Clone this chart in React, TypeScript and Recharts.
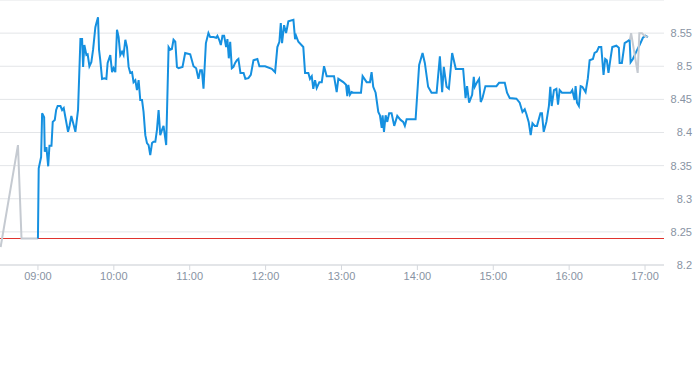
import React from "react";
import { LineChart, Line, XAxis, YAxis, CartesianGrid, ReferenceLine } from "recharts";

// minutes since midnight
const preTimes = [510.5, 524.2, 527.0, 540];
const prePrices = [8.227, 8.381, 8.24, 8.24];

const mainTimes = [
  540, 540.6, 542.5, 543.3, 544.9, 545.4, 546.7, 548.1, 549.1, 550.7, 551.7, 553.3, 554.4, 555.6, 557.8, 559.1, 560.4, 561.7, 563.8, 565.1,
  566.4, 568.3, 569.6, 571.7, 573.6, 574.9, 575.7, 576.7, 578.3, 579.3, 580.7, 582.2, 583.6, 585.4, 586.2, 587.5, 588.3, 589.3, 590.7, 592.5,
  594.1, 595.1, 597.2, 598.6, 599.8, 601.2, 602.5, 603.8, 605.1, 606.5, 607.7, 609.1, 610.4, 611.7, 613.0, 614.4, 615.6, 617.0, 618.3, 619.6,
  620.9, 622.3, 623.5, 624.9, 626.2, 627.5, 628.8, 630.2, 631.4, 632.8, 634.1, 635.4, 636.7, 638.1, 639.3, 640.1, 641.4, 643.3, 644.6, 645.9,
  647.2, 648.6, 649.9, 651.2, 654.3, 656.4, 660.4, 663.0, 665.1, 666.9, 668.3, 669.6, 670.9, 672.8, 674.8, 676.2, 678.8, 680.9, 681.9, 683.3,
  684.6, 685.9, 687.2, 688.8, 689.8, 690.9, 692.0, 693.3, 694.6, 695.9, 697.3, 698.5, 700.1, 702.6, 704.0, 706.4, 708.3, 710.4, 713.5, 715.1,
  719.6, 724.9, 727.5, 729.3, 730.9, 732.0, 733.0, 734.6, 736.2, 738.0, 742.0, 743.3, 744.1, 745.9, 749.8, 751.2, 753.8, 755.1, 756.5, 757.7,
  759.1, 760.4, 762.5, 764.4, 766.2, 768.3, 774.1, 776.2, 777.5, 781.4, 783.6, 784.6, 785.4, 786.7, 788.0, 789.3, 795.4, 796.7, 799.9, 802.5,
  803.8, 805.1, 807.0, 809.1, 810.4, 811.8, 812.5, 813.6, 814.9, 816.2, 817.7, 819.6, 821.7, 824.1, 826.7, 828.8, 830.1, 831.5, 838.6, 841.4,
  844.1, 845.9, 848.5, 851.2, 855.2, 857.8, 859.6, 860.9, 863.1, 864.9, 867.5, 870.4, 876.2, 878.1, 879.3, 880.9, 883.3, 884.6, 885.4, 887.2,
  888.8, 890.1, 891.5, 893.8, 902.5, 904.6, 909.1, 910.9, 913.0, 918.3, 920.9, 923.1, 924.9, 926.2, 928.0, 929.6, 931.0, 932.8, 934.6, 937.3,
  938.5, 939.9, 942.0, 944.0, 945.1, 946.2, 948.0, 949.9, 951.2, 952.5, 954.3, 961.2, 962.5, 964.3, 965.1, 966.2, 967.7, 969.1, 970.4, 973.0,
  974.8, 976.2, 978.8, 980.1, 981.9, 983.5, 985.4, 987.2, 988.5, 989.8, 991.1, 992.5, 994.1, 997.3, 999.3, 999.9, 1001.7, 1003.9, 1005.7, 1007.8,
  1008.6, 1010.4, 1013.1, 1015.7, 1018.3, 1020.4, 1022.3,
];
const mainPrices = [
  8.24, 8.346, 8.363, 8.429, 8.423, 8.371, 8.378, 8.349, 8.38, 8.38, 8.416, 8.419, 8.434, 8.44, 8.44, 8.434, 8.437, 8.423, 8.401, 8.411,
  8.425, 8.411, 8.401, 8.434, 8.541, 8.541, 8.499, 8.532, 8.517, 8.518, 8.5, 8.506, 8.525, 8.559, 8.565, 8.574, 8.525, 8.509, 8.481, 8.482,
  8.481, 8.505, 8.517, 8.491, 8.497, 8.491, 8.555, 8.544, 8.517, 8.522, 8.517, 8.54, 8.529, 8.499, 8.49, 8.491, 8.476, 8.479, 8.464, 8.479,
  8.449, 8.449, 8.431, 8.396, 8.384, 8.381, 8.366, 8.384, 8.386, 8.386, 8.404, 8.434, 8.396, 8.404, 8.41, 8.399, 8.381, 8.529, 8.525, 8.526,
  8.54, 8.537, 8.499, 8.497, 8.499, 8.52, 8.518, 8.5, 8.497, 8.481, 8.494, 8.494, 8.466, 8.535, 8.55, 8.544, 8.544, 8.543, 8.546, 8.54,
  8.532, 8.546, 8.546, 8.529, 8.541, 8.512, 8.537, 8.497, 8.499, 8.505, 8.509, 8.511, 8.49, 8.49, 8.481, 8.482, 8.487, 8.509, 8.511, 8.5,
  8.5, 8.496, 8.491, 8.529, 8.537, 8.565, 8.535, 8.562, 8.55, 8.568, 8.57, 8.541, 8.546, 8.537, 8.529, 8.49, 8.49, 8.481, 8.485, 8.466,
  8.479, 8.467, 8.476, 8.476, 8.5, 8.485, 8.485, 8.461, 8.481, 8.476, 8.472, 8.455, 8.472, 8.457, 8.461, 8.46, 8.46, 8.485, 8.476, 8.476,
  8.491, 8.469, 8.46, 8.431, 8.426, 8.407, 8.426, 8.401, 8.426, 8.416, 8.429, 8.429, 8.41, 8.425, 8.419, 8.416, 8.41, 8.42, 8.42, 8.502,
  8.52, 8.505, 8.469, 8.46, 8.46, 8.515, 8.461, 8.499, 8.469, 8.466, 8.52, 8.496, 8.496, 8.452, 8.47, 8.445, 8.457, 8.484, 8.469, 8.476,
  8.481, 8.446, 8.452, 8.47, 8.47, 8.475, 8.475, 8.46, 8.452, 8.451, 8.445, 8.431, 8.435, 8.428, 8.416, 8.396, 8.414, 8.41, 8.41, 8.429,
  8.429, 8.401, 8.416, 8.44, 8.469, 8.44, 8.464, 8.466, 8.442, 8.464, 8.46, 8.46, 8.464, 8.449, 8.47, 8.445, 8.44, 8.47, 8.469, 8.461,
  8.482, 8.509, 8.511, 8.52, 8.522, 8.529, 8.529, 8.487, 8.511, 8.509, 8.49, 8.509, 8.529, 8.531, 8.528, 8.505, 8.505, 8.535, 8.537, 8.54,
  8.506, 8.511, 8.522, 8.532, 8.543, 8.546, 8.544,
];

const postTimes = [1008.0, 1009.0, 1014.2, 1015.5, 1017.6, 1019.4, 1022.0];
const postPrices = [8.54, 8.55, 8.49, 8.55, 8.55, 8.546, 8.544];

const xTicks = [540, 600, 660, 720, 780, 840, 900, 960, 1020];
const yTicks = [8.2, 8.25, 8.3, 8.35, 8.4, 8.45, 8.5, 8.55];
const prevClose = 8.24;

type Row = { t: number; pre?: number; main?: number; post?: number };
const buildRows = (): Row[] => {
  const map = new Map<number, Row>();
  const add = (ts: number[], vs: number[], key: "pre" | "main" | "post") => {
    ts.forEach((t, i) => {
      const r = map.get(t) || { t };
      r[key] = vs[i];
      map.set(t, r);
    });
  };
  add(preTimes, prePrices, "pre");
  add(mainTimes, mainPrices, "main");
  add(postTimes, postPrices, "post");
  return Array.from(map.values()).sort((a, b) => a.t - b.t);
};
const rows = buildRows();

const fmtTime = (m: number) => {
  const h = Math.floor(m / 60);
  const mm = Math.round(m - h * 60);
  return `${String(h).padStart(2, "0")}:${String(mm).padStart(2, "0")}`;
};
const fmtPrice = (v: number) => String(Number(v.toFixed(2)));

const tickStyle = { fill: "#8893a3", fontSize: 11, fontFamily: "'Liberation Sans', Arial, sans-serif" };

export default function App() {
  return (
    <div style={{ position: "absolute", left: 0, top: 0 }}>
      <LineChart width={693} height={365} data={rows} margin={{ top: 0, right: 0, left: 0, bottom: 70 }}>
        <CartesianGrid vertical={false} stroke="#e3e5e8" />
        <XAxis
          dataKey="t"
          type="number"
          domain={[510, 1035]}
          ticks={xTicks}
          tickFormatter={fmtTime}
          allowDataOverflow
          height={30}
          stroke="#d5d8dd"
          tickSize={5}
          tickMargin={2}
          tick={tickStyle}
        />
        <YAxis
          orientation="right"
          type="number"
          domain={[8.2, 8.6]}
          ticks={yTicks}
          tickFormatter={fmtPrice}
          allowDataOverflow
          width={29}
          axisLine={false}
          tickLine={false}
          tickSize={0}
          tickMargin={28}
          tick={{ ...tickStyle, textAnchor: "end" }}
        />
        <ReferenceLine y={prevClose} stroke="#e0332e" strokeWidth={1} />
        <Line dataKey="pre" type="linear" connectNulls stroke="#c5cad1" strokeWidth={2} dot={false} activeDot={false} isAnimationActive={false} />
        <Line dataKey="main" type="linear" connectNulls stroke="#1590e0" strokeWidth={2} dot={false} activeDot={false} isAnimationActive={false} />
        <Line dataKey="post" type="linear" connectNulls stroke="#c5cad1" strokeWidth={2} dot={false} activeDot={false} isAnimationActive={false} />
      </LineChart>
    </div>
  );
}
